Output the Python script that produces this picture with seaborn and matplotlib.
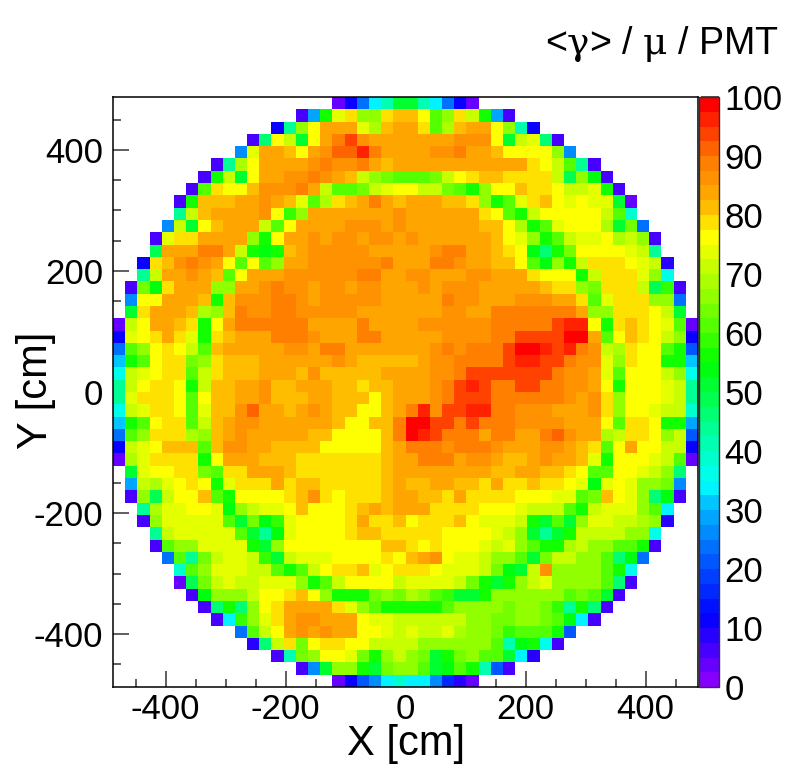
import numpy as np
import pandas as pd
import matplotlib
matplotlib.use('Agg')
import matplotlib.pyplot as plt
import seaborn as sns
from matplotlib.colors import LinearSegmentedColormap

# first filled column of every row, top row first
row_start = [18, 15, 13, 11, 10, 8, 7, 6, 5, 5, 4, 3, 3, 2, 2, 1, 1, 1, 0, 0, 0, 0, 0, 0,
             0, 0, 0, 0, 0, 0, 1, 1, 1, 2, 2, 3, 3, 4, 5, 5, 6, 7, 8, 10, 11, 13, 15, 18]

# <gamma> / mu / PMT, bin by bin
top_rows = [
    [4,12,23,33,42,50,50,42,33,23,12,4],
    [6,28,55,74,79,66,66,79,82,82,77,60,66,78,72,55,28,6],
    [12,43,65,77,84,84,83,73,68,82,84,84,79,62,68,80,83,83,77,65,42,12],
    [7,47,76,72,52,77,84,88,94,87,84,84,84,83,84,84,84,86,86,86,77,50,72,74,45,7],
    [27,73,83,83,80,77,83,87,91,91,95,88,84,84,83,84,86,86,88,84,84,80,77,77,77,77,65,25],
    [5,44,68,77,84,84,84,84,87,89,87,87,88,84,81,84,83,83,83,83,84,84,83,83,83,83,79,77,72,62,43,5],
    [6,57,71,52,77,84,84,87,87,89,87,84,81,72,67,63,60,60,62,64,71,77,79,82,82,79,79,79,79,72,48,67,54,6],
    [6,62,79,77,77,82,87,87,87,89,84,71,60,60,64,70,74,77,76,72,70,64,60,57,67,77,77,80,79,79,77,71,71,73,57,6],
    [5,55,80,82,82,84,84,87,84,82,73,62,68,79,82,84,88,84,82,83,83,83,82,82,79,65,55,61,74,79,81,77,74,76,74,74,50,4],
    [44,72,80,83,84,84,84,87,77,58,66,83,83,84,84,84,84,84,87,84,83,84,84,84,84,79,77,62,55,72,77,77,77,77,77,72,60,38],
    [26,72,52,77,82,84,84,83,72,62,77,84,84,84,84,87,87,87,84,87,84,83,84,84,84,84,82,82,77,68,56,62,73,77,77,77,68,50,63,24],
    [7,73,79,79,84,84,84,83,65,57,77,84,84,87,84,87,87,84,87,87,84,87,84,84,84,84,84,84,82,77,73,67,55,60,72,73,74,77,68,72,65,7],
    [48,84,84,84,88,88,84,72,55,54,57,82,84,87,87,87,87,87,84,84,84,84,84,87,89,89,84,84,82,79,77,54,45,55,63,76,76,76,76,74,72,44],
    [12,79,82,87,89,87,84,77,62,77,60,65,84,84,87,87,87,87,87,87,88,84,84,84,88,88,87,84,84,82,82,77,60,54,67,55,72,79,78,78,77,73,70,8],
    [44,72,83,84,87,84,82,60,77,83,83,84,87,87,87,87,87,87,89,88,84,84,87,87,84,84,84,87,87,84,84,84,79,77,77,76,57,72,78,78,79,73,67,37],
    [6,64,53,79,84,84,84,67,67,84,84,86,89,87,87,84,87,87,84,87,87,84,84,84,87,84,87,87,87,84,84,84,84,83,81,79,79,65,64,78,78,78,71,48,58,6],
    [26,77,77,83,84,84,80,56,82,87,87,87,89,89,87,84,87,87,87,87,87,84,84,84,84,84,88,87,87,84,84,84,87,87,87,84,84,79,61,74,78,78,79,67,65,24],
    [50,79,83,84,84,82,68,67,82,89,87,87,89,89,87,87,87,87,87,84,84,84,84,84,84,84,87,87,84,84,88,89,89,89,89,89,88,84,65,65,78,78,78,77,71,50],
    [4,72,77,83,83,82,79,56,77,84,88,88,88,89,89,88,84,84,84,84,88,84,84,84,84,87,87,87,87,87,87,89,89,89,89,89,94,95,97,77,57,79,81,79,75,73,60,4],
    [12,74,77,79,84,79,73,56,79,82,84,84,84,88,88,88,87,84,84,84,88,88,84,84,84,84,84,87,87,87,87,89,89,94,94,94,94,98,100,84,60,77,80,79,75,72,65,12],
    [23,62,65,77,79,77,71,60,82,83,83,83,83,84,87,87,84,88,88,84,84,84,84,84,84,84,87,89,87,89,89,89,94,99,100,96,94,95,89,87,72,68,79,77,75,60,56,22],
    [32,57,60,77,79,79,63,67,79,81,81,81,84,83,83,83,84,84,87,84,82,82,82,82,81,84,87,87,89,89,89,89,94,96,97,94,94,89,87,86,74,65,79,77,75,56,56,32],
    [37,71,73,77,79,79,60,72,79,81,81,81,84,83,83,81,86,82,82,82,80,80,83,84,84,84,87,87,89,94,94,94,94,94,94,94,89,87,87,84,74,60,77,77,75,72,67,36],
    [43,72,77,79,79,77,57,72,82,82,84,84,86,82,82,84,84,83,81,81,79,82,82,83,84,84,87,89,94,96,94,89,89,94,94,89,89,87,87,84,76,56,77,77,77,74,72,43],
]
bottom_rows = [
    [44,74,79,79,79,77,60,75,82,82,84,84,87,82,82,82,84,84,81,81,81,77,82,84,84,84,87,89,94,94,94,89,89,89,89,89,89,87,84,87,78,65,77,77,77,74,72,44],
    [37,72,74,79,79,77,60,74,81,81,86,91,84,84,82,84,87,84,81,81,77,77,82,84,89,95,87,94,94,96,96,89,89,86,86,86,84,84,84,87,79,65,77,77,74,72,72,38],
    [31,56,60,77,79,79,62,71,82,84,87,87,84,84,84,84,84,84,82,77,77,82,82,89,100,98,94,94,88,94,89,89,89,87,87,87,87,84,84,84,77,62,79,79,77,55,55,28],
    [23,62,67,79,79,79,68,65,82,84,87,84,84,84,84,84,82,82,77,77,77,77,82,89,98,96,94,89,88,88,84,89,88,84,84,88,91,87,84,84,68,72,79,79,76,65,72,22],
    [12,72,74,77,80,82,82,62,82,87,87,84,84,82,82,82,82,77,77,77,77,77,82,84,88,89,89,87,88,88,88,87,84,84,84,87,87,84,82,79,60,77,84,77,77,71,71,12],
    [4,68,74,79,79,79,79,55,77,84,84,84,82,82,82,78,78,78,78,78,78,78,82,84,84,88,88,88,84,87,87,84,81,81,84,87,84,84,82,74,55,77,77,77,74,71,62,4],
    [52,74,77,77,79,79,64,61,79,79,83,83,83,82,78,78,78,78,78,78,78,82,84,84,84,84,84,84,84,84,82,82,84,84,82,82,79,77,62,62,77,77,74,72,67,47],
    [28,71,68,73,77,79,77,55,74,79,79,79,83,79,82,82,78,78,78,78,78,82,84,81,81,84,84,82,82,79,83,79,79,82,79,79,77,74,54,74,77,74,67,67,64,25],
    [6,66,48,71,77,77,80,60,56,77,77,77,77,79,82,87,79,77,79,79,79,82,84,84,82,82,79,83,79,79,79,79,77,77,77,74,73,60,63,80,77,74,65,45,54,6],
    [43,68,74,74,77,77,74,54,65,71,74,74,77,80,77,77,77,79,82,84,82,84,84,83,78,78,79,79,77,77,77,73,72,72,71,62,55,72,73,73,74,65,60,33],
    [7,67,74,74,74,74,74,62,52,64,54,58,74,77,77,77,77,79,84,79,79,82,77,79,79,79,80,77,74,74,73,72,56,52,62,52,66,74,73,72,72,68,66,8],
    [43,71,73,74,74,74,74,60,50,44,54,74,77,77,77,77,79,80,80,79,79,79,79,79,77,77,77,77,73,72,66,50,44,52,57,70,71,71,71,67,65,36],
    [6,62,66,66,74,74,74,74,56,52,67,76,77,77,77,77,77,77,77,80,80,79,77,79,77,77,77,73,71,74,66,62,55,56,68,72,67,67,62,62,56,6],
    [24,60,44,64,71,74,74,72,58,50,71,73,73,74,77,77,77,77,78,77,80,83,87,77,74,74,72,67,67,62,50,63,71,71,67,67,62,45,53,23],
    [38,60,66,73,73,73,71,71,62,55,60,71,77,79,79,80,74,77,79,79,79,77,74,74,74,71,64,54,50,72,87,67,67,67,67,62,57,37],
    [4,48,64,71,74,72,71,74,74,74,65,55,62,72,77,77,77,75,72,74,73,73,73,70,63,55,52,55,65,72,73,67,67,67,65,62,47,5],
    [6,53,67,67,67,72,77,77,78,80,77,67,57,55,57,63,65,63,68,65,62,58,52,52,56,65,65,67,67,67,65,60,63,62,52,6],
    [6,47,56,46,67,76,79,84,84,84,84,79,74,67,60,57,55,55,55,55,60,65,66,66,65,63,66,67,64,58,44,56,47,6],
    [5,33,58,67,73,79,84,87,87,84,83,83,77,74,74,72,72,72,72,72,71,66,66,63,63,65,65,63,60,54,33,5],
    [24,62,72,77,84,87,84,86,83,83,77,77,74,72,74,72,72,74,68,66,66,64,58,62,62,62,57,20],
    [8,45,71,79,63,77,79,79,77,77,72,71,71,71,67,67,67,66,66,66,60,42,54,55,35,6],
    [7,42,63,66,77,77,74,63,56,66,71,66,64,52,55,63,65,62,60,52,33,8],
    [6,27,50,66,66,56,52,63,66,66,62,50,54,60,56,42,22,6],
    [4,12,20,26,33,38,33,33,25,17,8,4],
]

x_major = [-400, -200, 0, 200, 400]
y_major = [-400, -200, 0, 200, 400]
minor_cm = [-450, -350, -300, -250, -150, -100, -50, 50, 100, 150, 250, 300, 350, 450]
cbar_ticks = [0, 10, 20, 30, 40, 50, 60, 70, 80, 90, 100]

half_width = 487.5
n_bins = 48


def to_bin(cm):
    return (np.asarray(cm) + half_width) / (2 * half_width) * n_bins


grid = np.full((n_bins, n_bins), np.nan)
for i, vals in enumerate(top_rows + bottom_rows):
    grid[i, row_start[i]:row_start[i] + len(vals)] = vals
df = pd.DataFrame(grid)

# ROOT style rainbow, 40 contours
palette = LinearSegmentedColormap.from_list('root_rainbow', [
    (0.00, (0.52, 0.00, 1.00)),
    (0.11, (0.00, 0.00, 1.00)),
    (0.20, (0.00, 0.32, 1.00)),
    (0.30, (0.00, 0.72, 1.00)),
    (0.34, (0.00, 1.00, 1.00)),
    (0.42, (0.00, 1.00, 0.66)),
    (0.55, (0.00, 1.00, 0.00)),
    (0.65, (0.50, 1.00, 0.00)),
    (0.77, (1.00, 1.00, 0.00)),
    (0.795, (1.00, 0.88, 0.00)),
    (0.82, (1.00, 0.745, 0.00)),
    (0.846, (1.00, 0.647, 0.00)),
    (0.897, (1.00, 0.50, 0.00)),
    (0.923, (1.00, 0.39, 0.00)),
    (1.00, (1.00, 0.00, 0.00)),
], N=40)

sns.set_theme(style='white')
plt.rcParams['font.family'] = ['Liberation Sans', 'DejaVu Sans']
plt.rcParams['text.color'] = 'black'
plt.rcParams['mathtext.fontset'] = 'dejavuserif'

W, H = 789, 764
fig = plt.figure(figsize=(W / 100, H / 100), dpi=100)
ax = fig.add_axes([113 / W, 1 - 687 / H, 585 / W, 590 / H])
cax = fig.add_axes([699 / W, 1 - 687 / H, 20 / W, 590 / H])

sns.heatmap(df, ax=ax, cbar_ax=cax, cmap=palette, vmin=0, vmax=100,
            xticklabels=False, yticklabels=False, linewidths=0, antialiased=False,
            cbar_kws={'ticks': cbar_ticks})

ax.set_xticks(to_bin(x_major))
ax.set_xticklabels(x_major)
ax.set_yticks(n_bins - to_bin(y_major))
ax.set_yticklabels(y_major)
ax.set_xticks(to_bin(minor_cm), minor=True)
ax.set_yticks(n_bins - to_bin(minor_cm), minor=True)

ax.tick_params(axis='both', which='major', direction='in', length=11.5, width=1.1,
               color='#333333', labelcolor='black', labelsize=25, bottom=True, left=True)
ax.tick_params(axis='both', which='minor', direction='in', length=5.8, width=1.1,
               color='#333333', bottom=True, left=True)
ax.tick_params(axis='x', pad=4)
ax.tick_params(axis='y', pad=7, rotation=0)

for side, spine in ax.spines.items():
    spine.set_visible(True)
    spine.set_color('black')
    spine.set_linewidth(1.1)

cbar = ax.collections[0].colorbar
cbar.outline.set_visible(True)
cbar.outline.set_edgecolor('#333333')
cbar.outline.set_linewidth(1.0)
cax.tick_params(axis='y', direction='in', length=13, width=1.1, color='#222222',
                labelcolor='black', labelsize=25, pad=4, right=True)

fig.text(406 / W, 1 - 744 / H, 'X [cm]', fontsize=30, ha='center', va='center')
fig.text(36 / W, 1 - 390 / H, 'Y [cm]', fontsize=30, ha='center', va='center', rotation=90)
fig.text(778 / W, 1 - 44 / H, r'<$\mathrm{\gamma}$> / $\mathrm{\mu}$ / PMT', fontsize=27,
         ha='right', va='center')

fig.savefig('out.png', dpi=100)
plt.close(fig)
